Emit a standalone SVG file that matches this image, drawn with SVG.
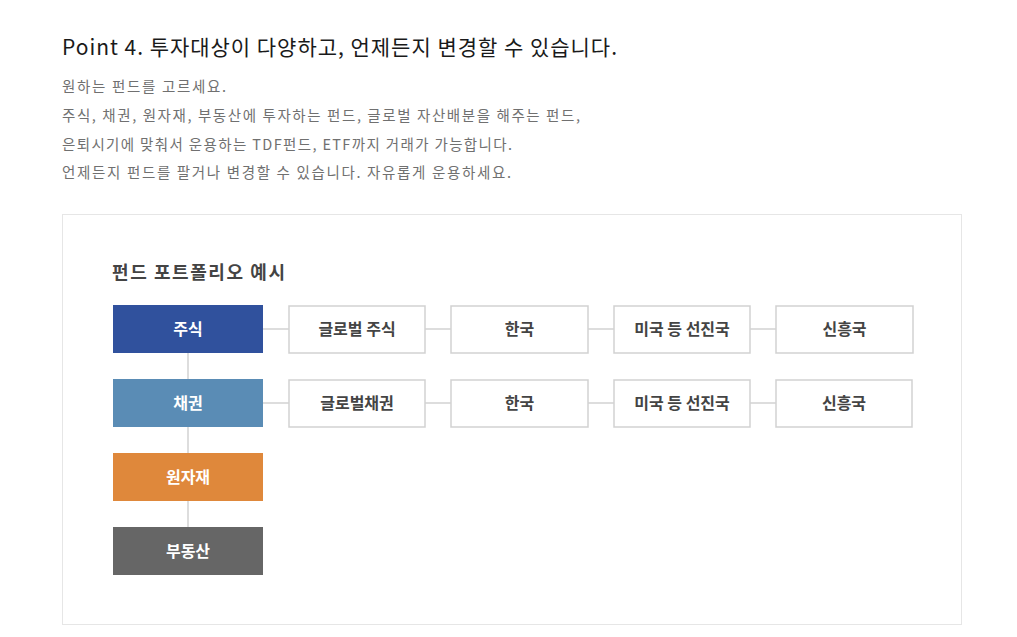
<svg xmlns="http://www.w3.org/2000/svg" width="1017" height="637" viewBox="0 0 1017 637">
<style>
text{font-family:"Noto Sans CJK KR","Noto Sans",sans-serif}
.h{font-size:21px;fill:#1a1a1a}
.p{font-size:14.5px;fill:#707070}
.t{font-size:18px;font-weight:bold;fill:#444}
.lbl{font-size:16px;font-weight:bold;text-anchor:middle;dominant-baseline:central}
.w{fill:#fff}
.d{fill:#444}
.box{fill:#fff;stroke:#d2d2d2;stroke-width:1.5}
.ln{stroke:#d2d2d2;stroke-width:1.5;fill:none}
</style>
<rect width="1017" height="637" fill="#fff"/>
<text class="h" x="62" y="55" textLength="555" lengthAdjust="spacing">Point 4. 투자대상이 다양하고, 언제든지 변경할 수 있습니다.</text>
<text class="p" x="62" y="92" textLength="164" lengthAdjust="spacing">원하는 펀드를 고르세요.</text>
<text class="p" x="62" y="121" textLength="518" lengthAdjust="spacing">주식, 채권, 원자재, 부동산에 투자하는 펀드, 글로벌 자산배분을 해주는 펀드,</text>
<text class="p" x="62" y="150" textLength="450" lengthAdjust="spacing">은퇴시기에 맞춰서 운용하는 TDF펀드, ETF까지 거래가 가능합니다.</text>
<text class="p" x="62" y="178" textLength="449" lengthAdjust="spacing">언제든지 펀드를 팔거나 변경할 수 있습니다. 자유롭게 운용하세요.</text>
<rect x="62.5" y="214.5" width="899" height="410" fill="#fff" stroke="#e6e6e6" stroke-width="1"/>
<text class="t" x="112" y="279" textLength="173" lengthAdjust="spacing">펀드 포트폴리오 예시</text>
<g id="connectors">
<line class="ln" x1="188" y1="353" x2="188" y2="527"/>
<line class="ln" x1="263" y1="329" x2="289" y2="329"/>
<line class="ln" x1="425" y1="329" x2="451" y2="329"/>
<line class="ln" x1="588" y1="329" x2="614" y2="329"/>
<line class="ln" x1="750" y1="329" x2="776" y2="329"/>
<line class="ln" x1="263" y1="403" x2="289" y2="403"/>
<line class="ln" x1="425" y1="403" x2="451" y2="403"/>
<line class="ln" x1="588" y1="403" x2="614" y2="403"/>
<line class="ln" x1="750" y1="403" x2="776" y2="403"/>
</g>
<g id="stock"><rect x="113" y="305" width="150" height="48" fill="#30519d"/><text class="lbl w" x="188" y="328">주식</text></g>
<g id="bond"><rect x="113" y="379" width="150" height="48" fill="#5a8cb5"/><text class="lbl w" x="188" y="402">채권</text></g>
<g id="commodity"><rect x="113" y="453" width="150" height="48" fill="#df883b"/><text class="lbl w" x="188" y="476">원자재</text></g>
<g id="realestate"><rect x="113" y="527" width="150" height="48" fill="#666666"/><text class="lbl w" x="188" y="550">부동산</text></g>
<g id="global-stock"><rect class="box" x="289" y="306" width="136" height="47"/><text class="lbl d" x="357" y="328">글로벌 주식</text></g>
<g id="korea1"><rect class="box" x="451" y="306" width="137" height="47"/><text class="lbl d" x="519.5" y="328">한국</text></g>
<g id="developed1"><rect class="box" x="614" y="306" width="136" height="47"/><text class="lbl d" x="682" y="328">미국 등 선진국</text></g>
<g id="emerging1"><rect class="box" x="776" y="306" width="137" height="47"/><text class="lbl d" x="844.5" y="328">신흥국</text></g>
<g id="global-bond"><rect class="box" x="289" y="380" width="136" height="47"/><text class="lbl d" x="357" y="402">글로벌채권</text></g>
<g id="korea2"><rect class="box" x="451" y="380" width="137" height="47"/><text class="lbl d" x="519.5" y="402">한국</text></g>
<g id="developed2"><rect class="box" x="614" y="380" width="136" height="47"/><text class="lbl d" x="682" y="402">미국 등 선진국</text></g>
<g id="emerging2"><rect class="box" x="776" y="380" width="136" height="47"/><text class="lbl d" x="844" y="402">신흥국</text></g>
</svg>
